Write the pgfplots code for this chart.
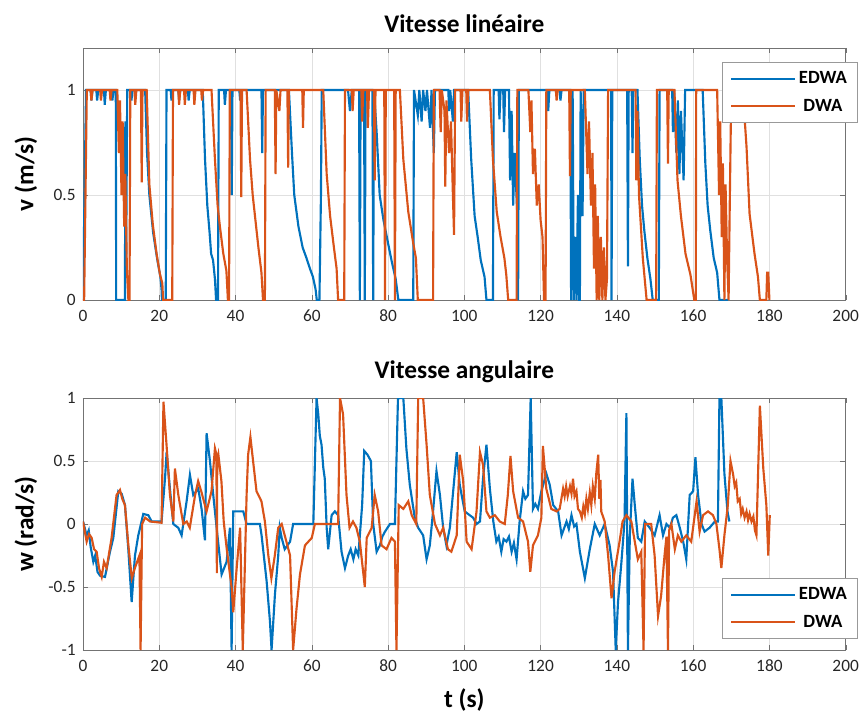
\documentclass[border=0pt]{standalone}
\usepackage{pgfplots}
\pgfplotsset{compat=1.18}
\usepackage{fontspec}
\setmainfont{Carlito}
\definecolor{mblue}{RGB}{0,114,189}
\definecolor{morange}{RGB}{217,83,25}
\pgfplotsset{
  mystyle/.style={
    scale only axis, width=572pt, height=189pt,
    xmin=0, xmax=200, xtick={0,20,...,200},
    axis line style={black!55}, tick style={black!55},
    tick align=inside, major tick length=4pt,
    grid=major, grid style={black!12, line width=0.4pt},
    ticklabel style={font=\fontsize{13}{15}\selectfont, text=black!85},
    xticklabel style={yshift=-4pt},
    yticklabel style={xshift=-2pt},
    /pgf/number format/assume math mode=true,
    title style={font=\bfseries\fontsize{19}{22}\selectfont, at={(0.5,1)}, anchor=south, yshift=2pt},
    label style={font=\bfseries\fontsize{19}{22}\selectfont},
    ylabel style={at={(axis description cs:-0.075,0.5)}, anchor=center},
    legend cell align=center,
    legend style={draw=black!40, fill=white, font=\bfseries\fontsize{14}{16}\selectfont, row sep=6pt, inner xsep=6pt, inner ysep=5pt},
    legend image code/.code={\draw[#1] (0pt,0pt) -- (48pt,0pt);},
    legend image post style={line width=1.4pt},
  },
  eline/.style={mblue, line width=1.6pt},
  dline/.style={morange, line width=1.6pt},
}
\begin{document}
\begin{tikzpicture}
\useasboundingbox (-62.25pt,-312.75pt) rectangle (585pt,225pt);
\begin{axis}[mystyle, at={(0,0)}, anchor=south west,
  ymin=0, ymax=1.2, ytick={0,0.5,1}, yticklabels={0,0.5,1},
  title={Vitesse linéaire}, ylabel={v (m/s)},
  legend style={at={(1.016,0.944)}, anchor=north east}]
\addplot[eline] coordinates {
(0,0) (0.8,1) (2.0,1) (2.2,0.95) (2.5,1) (3.5,1) (3.7,0.95) (4.0,1) (5.5,1) (5.7,0.93) (6.0,1) (7.5,1) (7.7,0.95) (8.0,1) (8.6,1) (8.7,0) (11.0,0) (11.1,0.85) (11.3,0.15) (11.6,1) (12.5,1) (12.7,0.95) (13.0,1) (16.3,1) (16.8,0.7) (17.4,0.5) (18.4,0.32) (19.5,0.19) (20.3,0.11) (20.6,0.05) (20.7,0) (21.7,0) (21.9,1) (23.0,1) (23.2,0.95) (23.5,1) (25,1) (25.2,0.95) (25.5,1) (27.5,1) (27.7,0.95) (28,1) (31.4,1) (32.0,0.67) (32.6,0.45) (33.2,0.32) (33.6,0.22) (34.1,0.19) (34.6,0.1) (34.9,0) (35.4,0) (35.6,1) (37,1) (37.2,0.93) (37.5,1) (38.8,1) (39.0,0.5) (39.2,1) (41,1) (41.2,0.95) (41.5,1) (46.8,1) (47.0,0.7) (47.2,1) (54.0,1) (54.8,0.7) (55.4,0.5) (56.5,0.35) (57.6,0.25) (58.6,0.2) (59.5,0.15) (60.3,0.11) (61.0,0.05) (61.3,0) (62.0,0) (62.4,0.5) (62.6,1) (69.5,1) (70.0,0.9) (70.5,1) (72.4,1) (72.6,0) (72.8,1) (73.7,1) (73.9,0) (74.1,1) (75.9,1) (76.1,0) (76.3,1) (77.0,0.8) (77.8,0.5) (78.8,0.38) (80.0,0.27) (81.0,0.18) (82.0,0.1) (82.7,0) (86.6,0) (86.8,1) (87.8,0.88) (88.2,1) (88.8,0.85) (89.2,1) (89.8,0.9) (90.2,1) (91.0,0.82) (91.4,1) (92.0,0.7) (92.3,1) (95.8,1) (96.0,0.9) (96.3,1) (97.0,0.85) (97.3,1) (101.0,1) (101.8,0.67) (102.7,0.4) (103.5,0.3) (104.3,0.19) (105.3,0.11) (105.8,0) (107.5,0) (107.7,1) (109.0,1) (109.2,0.86) (109.5,1) (110.2,1) (110.4,0.8) (110.7,1) (111.7,1) (112.0,0.57) (112.4,0.9) (112.8,0.45) (113.2,0.7) (113.9,0.4) (114.1,0) (114.3,1) (121.8,1) (122.0,0.9) (122.3,1) (125.0,1) (125.2,0.95) (125.5,1) (127.8,1) (128.0,0) (128.4,1) (128.7,0) (129.1,0.3) (129.4,0) (129.8,0.5) (130.1,0) (130.3,0) (130.5,1) (131.0,0.4) (131.3,1) (138.5,1) (138.6,0) (138.8,1) (142.7,1) (142.9,0.16) (143.1,1) (143.9,1) (144.1,0.7) (144.3,1) (145.4,1) (146.0,0.67) (146.6,0.45) (147.2,0.33) (148.0,0.2) (148.8,0.1) (149.4,0) (151.0,0) (151.2,1) (154.5,1) (154.7,0.8) (155.0,1) (155.6,0.7) (156.0,0.95) (156.4,0.6) (156.8,0.9) (157.5,0.57) (157.9,1) (162.5,1) (163.2,0.65) (163.8,0.45) (164.5,0.33) (165.4,0.2) (166.3,0.13) (166.9,0) (169.2,0)
};
\addlegendentry{EDWA}
\addplot[dline] coordinates {
(0,0) (0.3,0) (1.0,1) (2,1) (2.2,0.95) (2.5,1) (4.5,1) (4.7,0.95) (5,1) (7,1) (7.2,0.95) (7.5,1) (9.0,1) (9.4,0.7) (9.7,0.95) (10.1,0.5) (10.4,0.85) (10.8,0.35) (11.1,0.6) (11.5,0.15) (11.9,0) (12.2,0) (12.4,1) (13.5,1) (13.7,0.93) (14,1) (15.2,1) (15.4,0.56) (15.6,1) (16.7,1) (17.4,0.55) (18.3,0.36) (19.3,0.22) (20.2,0.12) (20.8,0.08) (21.0,0) (23.4,0) (23.6,1) (25,1) (25.2,0.93) (25.5,1) (26.5,1) (26.7,0.93) (27,1) (29,1) (29.2,0.93) (29.5,1) (31,1) (31.2,0.95) (31.5,1) (33.7,1) (34.6,0.67) (35.3,0.45) (35.9,0.35) (36.8,0.22) (37.6,0.14) (38.0,0) (38.3,0) (38.5,1) (41.3,1) (41.5,0.49) (41.7,1) (42.9,1) (43.8,0.67) (44.5,0.5) (45.1,0.4) (46.0,0.25) (46.8,0.13) (47.2,0) (47.7,0) (47.9,1) (50.3,1) (50.5,0.6) (50.7,1) (51.5,0.9) (51.8,1) (53.6,1) (53.8,0.63) (54.0,1) (57.5,1) (57.7,0.82) (57.9,1) (63.0,1) (63.9,0.6) (64.8,0.4) (65.8,0.25) (66.5,0.15) (66.9,0) (68.5,0) (68.7,1) (70.5,1) (70.7,0.9) (71,1) (73,1) (73.2,0.85) (73.5,1) (74.5,1) (74.7,0.82) (75,1) (76.3,1) (76.5,0.57) (76.7,1) (79.0,1) (79.2,0) (79.4,1) (81.6,1) (81.8,0) (82.0,1) (83.1,1) (84.0,0.67) (85.3,0.42) (86.6,0.27) (87.3,0.2) (87.8,0) (91.8,0) (92.0,1) (93.5,1) (93.8,0.8) (94.1,1) (94.8,0.9) (95.0,0.54) (95.3,0.95) (96.0,0.7) (96.5,0.85) (97.0,0.5) (97.3,0.31) (97.6,1) (99,1) (99.2,0.85) (99.5,1) (100.5,1) (100.7,0.85) (101,1) (106.7,1) (107.5,0.67) (108.5,0.42) (109.5,0.3) (110.5,0.2) (111.0,0.12) (111.5,0) (113.7,0) (113.9,1) (116.8,1) (117.3,0.8) (117.6,0.95) (118.0,0.6) (118.5,0.72) (119.0,0.45) (119.5,0.55) (120.0,0.38) (120.5,0.3) (120.9,0) (121.3,0) (121.5,1) (124,1) (124.2,0.95) (124.5,1) (127.5,1) (127.7,0.59) (127.9,1) (131.6,1) (132.3,0.6) (132.7,0.85) (133.2,0.45) (133.6,0.7) (134.0,0.15) (134.3,0.55) (134.7,0) (135.0,0.4) (135.4,0) (135.8,0.3) (136.2,0) (136.6,0.25) (137.0,0) (137.4,0.1) (137.7,1) (144.9,1) (145.1,0.57) (145.4,0.9) (145.8,0.5) (146.3,0.35) (146.8,0.2) (147.4,0.08) (147.8,0) (150.3,0) (150.5,1) (153.2,1) (153.4,0.65) (153.6,1) (155.1,1) (155.9,0.57) (156.8,0.4) (158.0,0.22) (159.3,0.12) (160.3,0) (160.7,0) (160.8,1) (166.3,1) (166.8,0.5) (167.1,0.85) (167.5,0.3) (167.8,0.65) (168.2,0) (168.5,0.55) (168.9,0.2) (169.3,0) (169.6,0.45) (170.0,1) (173.0,1) (174.0,0.73) (174.8,0.41) (176.1,0.22) (177.0,0.11) (177.5,0) (179.2,0) (179.4,0.13) (179.7,0.13) (180.0,0)
};
\addlegendentry{DWA}
\end{axis}
\begin{axis}[mystyle, at={(0,-262.5pt)}, anchor=south west,
  ymin=-1, ymax=1, ytick={-1,-0.5,0,0.5,1}, yticklabels={-1,-0.5,0,0.5,1},
  title={Vitesse angulaire}, ylabel={w (rad/s)}, xlabel={t (s)},
  xlabel style={at={(axis description cs:0.5,-0.2)}, anchor=center},
  legend style={at={(1.016,0.286)}, anchor=north east}]
\addplot[eline] coordinates {
(0,0.02) (0.96,-0.09) (1.5,-0.05) (2.0,-0.18) (2.71,-0.3) (3.2,-0.25) (3.8,-0.38) (4.46,-0.41) (5.77,-0.42) (7.08,-0.22) (7.95,-0.11) (9.26,0.26) (10.14,0.24) (11.01,0.15) (11.88,-0.2) (12.76,-0.62) (13.63,-0.25) (14.5,-0.09) (15.81,0.08) (17.12,0.07) (18,0.02) (20.6,0.02) (21.5,0.36) (21.93,0.57) (22.8,0.28) (23.68,0) (24.99,-0.03) (25.86,-0.09) (27.17,0.18) (28.04,0.39) (28.92,0.23) (30.23,0.28) (31.1,0.12) (31.98,-0.13) (32.41,0.72) (33.29,0.5) (34.16,0.23) (35.04,-0.03) (36.35,-0.4) (37.66,-0.3) (38.53,-0.03) (38.97,-1) (39.4,0.1) (42.03,0.1) (42.9,0) (46.39,0) (46.83,-0.09) (48.14,-0.45) (49.02,-0.77) (49.45,-1) (50.33,-0.56) (51.2,-0.25) (51.6,-0.03) (52.1,-0.11) (52.9,-0.2) (54.3,-0.14) (55.1,0) (60.4,0) (61.25,1) (61.7,0.87) (62.1,0.7) (62.55,0.63) (63.0,0.45) (63.4,0.36) (63.9,-0.03) (64.3,-0.2) (65.2,0.07) (66.05,0.1) (66.9,0.07) (67.8,-0.22) (68.7,-0.35) (69.55,-0.25) (70.2,-0.2) (70.9,-0.28) (71.5,-0.2) (72.2,-0.25) (73.2,0.15) (73.75,0.58) (74.6,0.55) (75.5,0.5) (76.1,0) (77.0,-0.22) (77.85,-0.17) (78.5,-0.1) (79.2,-0.06) (80.5,0) (81.8,0) (82.6,1) (84.0,1) (84.8,0.6) (85.7,0.31) (87.0,0.05) (87.9,-0.03) (89.2,-0.09) (90.1,-0.28) (90.95,-0.17) (91.8,0.1) (92.7,0.42) (93.6,0.23) (94.45,-0.03) (95.3,-0.17) (96.2,-0.03) (98.0,0.57) (98.8,0.31) (100.1,0.1) (101.4,0.07) (102.3,0.05) (103.2,0) (104.1,0.02) (104.9,0.36) (105.8,0.63) (106.7,0.28) (107.6,0.02) (108.4,-0.14) (109.0,-0.1) (109.7,-0.22) (110.3,-0.12) (111.05,-0.14) (111.7,-0.1) (112.4,-0.22) (113.0,-0.15) (113.7,-0.28) (114.5,0.02) (115.4,0.26) (116.0,0.2) (116.7,0.23) (117.4,1) (118.0,0.12) (118.6,0.16) (119.3,0.12) (120.2,0.26) (121.5,0.4) (122.4,0.31) (123.3,0.15) (124.6,0.1) (125.5,-0.09) (126.8,0.02) (127.4,-0.04) (128.1,0.07) (128.8,-0.02) (129.4,0) (130.3,-0.22) (131.6,-0.43) (132.9,-0.2) (134.2,0) (135.5,-0.09) (136.8,0) (138.1,-0.17) (139.0,-0.38) (139.7,-1) (140.3,-0.62) (141.2,-0.3) (142.0,0.02) (142.5,0.88) (142.9,-1) (143.4,-0.09) (144.1,0.36) (144.7,0.15) (145.5,-0.11) (146.4,-0.14) (147.3,0.02) (148.6,-0.03) (149.9,-0.09) (151.2,0.07) (152.1,-0.09) (153.0,0) (153.9,-0.03) (154.7,0.05) (155.6,0.07) (156.5,-0.03) (157.4,-0.14) (158.2,-0.28) (159.1,0.23) (160.0,0.26) (160.6,0.53) (161.3,0.23) (162.2,0) (163.0,-0.06) (164.3,-0.03) (165.7,0.02) (166.5,0.02) (166.9,1) (167.4,1) (168.2,0.4) (169.0,0.1) (169.5,0.02)
};
\addlegendentry{EDWA}
\addplot[dline] coordinates {
(0,0.02) (0.96,-0.14) (1.6,-0.08) (2.27,-0.11) (2.9,-0.2) (3.58,-0.22) (4.2,-0.35) (4.9,-0.42) (5.5,-0.3) (6.2,-0.35) (7.5,-0.11) (8.8,0.23) (9.7,0.27) (10.3,0.2) (11.0,0.15) (11.9,-0.17) (12.8,-0.43) (13.6,-0.35) (14.8,-0.25) (15.1,-1) (15.5,0) (16.3,0.05) (17.6,0.02) (20.6,0.01) (21.1,0.97) (21.9,0.63) (22.8,0.23) (23.7,0.02) (24.1,0.44) (25.0,0.23) (26.3,0) (27.2,0.02) (28.0,-0.03) (29.4,0.23) (30.2,0.34) (31.1,0.25) (32.4,0.1) (33.7,0.26) (34.6,0.6) (35.0,0.55) (35.1,-0.39) (35.2,0.5) (35.5,0.55) (36.3,0.34) (36.9,0.02) (37.7,-0.2) (39.0,-0.51) (39.4,-0.7) (40.3,-0.35) (41.2,-0.03) (41.9,-1) (42.9,0.23) (43.3,0.55) (43.9,0.69) (44.6,0.5) (45.5,0.26) (46.8,0.18) (47.7,0.02) (48.6,-0.25) (49.4,-0.43) (50.3,-0.25) (51.2,-0.03) (52.1,0) (52.9,-0.09) (54.3,-0.25) (55.1,-1) (56.0,-0.67) (56.9,-0.4) (58.2,-0.17) (59.1,-0.14) (60.0,-0.11) (60.8,0) (66.9,0) (67.4,1) (68.2,0.87) (69.1,0.23) (69.9,-0.03) (70.8,0.02) (71.7,-0.03) (72.6,-0.14) (73.9,-0.5) (74.4,-0.11) (75.7,-0.03) (76.5,0.23) (77.4,0.1) (78.3,-0.17) (79.6,-0.2) (80.9,-0.11) (81.8,-0.14) (82.2,-1) (82.8,0.15) (84.0,0.12) (85.3,0.18) (86.2,0.07) (87.4,0) (87.9,1) (89.2,1) (90.1,0.63) (90.95,0.23) (92.3,0) (93.6,-0.09) (94.45,-0.03) (95.7,-0.2) (96.6,-0.22) (98.0,-0.09) (98.8,0.55) (99.7,0.34) (100.6,-0.14) (101.9,-0.2) (102.3,-0.11) (103.2,0.1) (104.1,0.57) (104.9,0.47) (105.8,0.1) (106.7,0.05) (108.0,0.07) (109.3,0.02) (110.6,0) (111.4,0.23) (112.1,0.54) (112.8,0.26) (114.1,0.05) (115.4,0.02) (116.7,-0.14) (117.3,-0.38) (118.0,-0.17) (119.3,-0.09) (120.2,0.05) (120.6,0.62) (121.5,0.28) (122.8,0.12) (124.2,0.1) (125.0,0.12) (125.9,0.28) (126.3,0.22) (126.7,0.3) (127.1,0.22) (127.7,0.3) (128.1,0.24) (128.5,0.36) (128.9,0.22) (129.4,0.26) (129.8,0.12) (130.3,0.1) (130.8,0.05) (131.2,0.14) (131.6,0.08) (132.0,0.2) (132.4,0.12) (132.9,0.25) (133.3,0.15) (133.7,0.3) (134.2,0.2) (134.6,0.4) (135.1,0.55) (135.4,0.2) (135.7,0.35) (135.9,0.1) (136.8,0.02) (137.7,-0.25) (138.6,-0.59) (139.4,-0.38) (140.7,-0.14) (141.5,0.02) (142.5,0.07) (143.8,0.02) (144.7,-0.14) (145.5,-0.28) (146.4,-0.22) (147.0,-1) (147.4,0) (149.0,0) (149.9,-0.25) (150.8,-0.73) (151.6,-0.57) (152.5,-0.25) (153.0,-0.1) (153.4,-1) (153.7,-0.05) (154.3,0) (155.2,-0.2) (156.0,-0.09) (156.9,-0.14) (158.2,-0.09) (159.5,-0.14) (160.9,0.18) (161.7,-0.06) (162.6,0.07) (163.9,0.1) (165.2,0.07) (166.1,0) (166.9,-0.2) (167.4,-0.35) (168.2,-0.09) (169.1,0.15) (169.8,0.5) (170.5,0.39) (170.9,0.3) (171.3,0.33) (171.7,0.18) (172.2,0.2) (172.6,0.08) (173.0,0.12) (173.5,0.05) (174.0,0.1) (174.4,0.03) (174.8,0.08) (175.3,0.02) (175.8,0.06) (176.2,-0.05) (176.6,-0.09) (177.5,0.94) (178.4,0.44) (179.2,0.15) (179.7,-0.25) (180.1,0.07)
};
\addlegendentry{DWA}
\end{axis}
\end{tikzpicture}
\end{document}
